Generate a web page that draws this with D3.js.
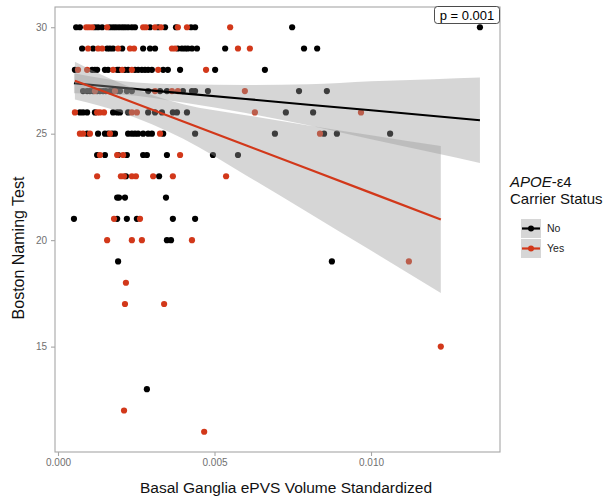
<!DOCTYPE html>
<html>
<head>
<meta charset="utf-8">
<script src="https://cdn.jsdelivr.net/npm/d3@7"></script>
<style>
  html, body { margin: 0; padding: 0; background: #fff; }
  svg text { font-family: "Liberation Sans", Arial, Helvetica, sans-serif; }
</style>
</head>
<body>
<svg id="chart" width="605" height="498"></svg>
<script>
// Boston Naming Test score rows, each with the basal ganglia ePVS volumes observed at that score
const nonCarrierRows = [
  [30, [0.00058, 0.00070, 0.00118, 0.00128, 0.00141, 0.00166, 0.00176, 0.00185, 0.00195, 0.00205, 0.00214, 0.00224, 0.00236, 0.00246, 0.00294, 0.00320, 0.00342, 0.00377, 0.00425, 0.00438, 0.00748, 0.01348]],
  [29, [0.00077, 0.00112, 0.00157, 0.00166, 0.00176, 0.00205, 0.00272, 0.00294, 0.00310, 0.00383, 0.00396, 0.00406, 0.00415, 0.00428, 0.00444, 0.00534, 0.00786, 0.00828]],
  [28, [0.00054, 0.00109, 0.00118, 0.00125, 0.00150, 0.00160, 0.00189, 0.00195, 0.00214, 0.00224, 0.00246, 0.00256, 0.00268, 0.00278, 0.00288, 0.00300, 0.00336, 0.00351, 0.00390, 0.00502, 0.00661]],
  [27, [0.00080, 0.00093, 0.00102, 0.00112, 0.00125, 0.00134, 0.00144, 0.00153, 0.00166, 0.00176, 0.00189, 0.00198, 0.00220, 0.00236, 0.00288, 0.00326, 0.00348, 0.00399, 0.00428, 0.00438, 0.00479, 0.00770, 0.00859]],
  [26, [0.00070, 0.00080, 0.00093, 0.00118, 0.00176, 0.00189, 0.00198, 0.00224, 0.00288, 0.00310, 0.00332, 0.00367, 0.00380, 0.00412, 0.00728, 0.00815]],
  [25, [0.00093, 0.00128, 0.00150, 0.00160, 0.00173, 0.00182, 0.00224, 0.00236, 0.00246, 0.00256, 0.00272, 0.00288, 0.00300, 0.00336, 0.00438, 0.00693, 0.00850, 0.00891, 0.01061]],
  [24, [0.00125, 0.00150, 0.00192, 0.00220, 0.00272, 0.00284, 0.00348, 0.00495, 0.00575]],
  [23, [0.00217, 0.00323]],
  [22, [0.00189, 0.00195, 0.00214, 0.00345]],
  [21, [0.00051, 0.00189, 0.00220, 0.00252, 0.00367, 0.00438]],
  [20, [0.00348, 0.00361]],
  [19, [0.00192, 0.00875]],
  [13, [0.00284]]
];

const carrierRows = [
  [30, [0.00090, 0.00099, 0.00109, 0.00157, 0.00272, 0.00281, 0.00310, 0.00329, 0.00383, 0.00412, 0.00550]],
  [29, [0.00096, 0.00128, 0.00141, 0.00192, 0.00230, 0.00243, 0.00364, 0.00374, 0.00575, 0.00613]],
  [28, [0.00064, 0.00093, 0.00176, 0.00205, 0.00236, 0.00320, 0.00473]],
  [27, [0.00118, 0.00182, 0.00310, 0.00364, 0.00383, 0.00597]],
  [26, [0.00054, 0.00125, 0.00134, 0.00147, 0.00236, 0.00252, 0.00629, 0.00968]],
  [25, [0.00070, 0.00080, 0.00102, 0.00166, 0.00326, 0.00837]],
  [24, [0.00134, 0.00189, 0.00208, 0.00390]],
  [23, [0.00125, 0.00201, 0.00211, 0.00236, 0.00249, 0.00304, 0.00367, 0.00537]],
  [21, [0.00179, 0.00262]],
  [20, [0.00157, 0.00236, 0.00268, 0.00428]],
  [19, [0.01121]],
  [18, [0.00217]],
  [17, [0.00214, 0.00339]],
  [15, [0.01223]],
  [12, [0.00211]],
  [11, [0.00467]]
];

// Linear fits with 95% confidence bands
const nonCarrierFitX = [0.00051, 0.002, 0.004, 0.006, 0.008, 0.010, 0.012, 0.01348];
const nonCarrierFit = [27.37, 27.16, 26.89, 26.63, 26.36, 26.10, 25.83, 25.63];
const nonCarrierLower = [26.90, 26.84, 26.46, 25.97, 25.40, 24.74, 24.10, 23.62];
const nonCarrierUpper = [27.84, 27.48, 27.32, 27.29, 27.32, 27.46, 27.56, 27.64];

const carrierFitX = [0.00054, 0.002, 0.004, 0.006, 0.008, 0.010, 0.01223];
const carrierFit = [27.49, 26.69, 25.57, 24.46, 23.34, 22.22, 20.97];
const carrierLower = [26.60, 26.01, 24.76, 23.05, 21.29, 19.51, 17.52];
const carrierUpper = [28.38, 27.37, 26.38, 25.87, 25.39, 24.93, 24.42];

const xTicks = [0, 0.005, 0.010];
const yTicks = [15, 20, 25, 30];
const groupLabels = ["No", "Yes"];
const groupColors = ["#000000", "#d2381a"];
const pLabel = "p = 0.001";

const svg = d3.select("#chart");
const panel = { left: 55, right: 500, top: 7, bottom: 452 };

const x = d3.scaleLinear().domain([-0.0000958, 0.014121]).range([panel.left, panel.right]);
const y = d3.scaleLinear().domain([10.05, 30.95]).range([panel.bottom, panel.top]);

const flatten = rows => rows.flatMap(([score, vols]) => vols.map(v => [v, score]));
const groups = [
  { points: flatten(nonCarrierRows), fx: nonCarrierFitX, fit: nonCarrierFit, lo: nonCarrierLower, hi: nonCarrierUpper, color: groupColors[0] },
  { points: flatten(carrierRows), fx: carrierFitX, fit: carrierFit, lo: carrierLower, hi: carrierUpper, color: groupColors[1] }
];

const plot = svg.append("g");

// points
groups.forEach(g => {
  plot.append("g").selectAll("circle").data(g.points).join("circle")
    .attr("cx", d => x(d[0])).attr("cy", d => y(d[1]))
    .attr("r", 3.1).attr("fill", g.color);
});

// confidence ribbons and fitted lines, group by group
const band = d3.area().curve(d3.curveMonotoneX)
  .x(d => x(d.x)).y0(d => y(d.lo)).y1(d => y(d.hi));
const fitLine = d3.line().x(d => x(d.x)).y(d => y(d.y));

groups.forEach(g => {
  const rows = g.fx.map((v, i) => ({ x: v, lo: g.lo[i], hi: g.hi[i], y: g.fit[i] }));
  plot.append("path").datum(rows).attr("d", band)
    .attr("fill", "#999999").attr("fill-opacity", 0.4);
  plot.append("path").datum(rows).attr("d", fitLine)
    .attr("fill", "none").attr("stroke", g.color).attr("stroke-width", 2.2);
});

// panel border
svg.append("rect")
  .attr("x", panel.left).attr("y", panel.top)
  .attr("width", panel.right - panel.left).attr("height", panel.bottom - panel.top)
  .attr("fill", "none").attr("stroke", "#a6a6a6").attr("stroke-width", 1.1);

// axes
const xAxis = svg.append("g").attr("transform", `translate(0,${panel.bottom})`)
  .call(d3.axisBottom(x).tickValues(xTicks).tickFormat(d3.format(".3f")).tickSize(4).tickPadding(3));
const yAxis = svg.append("g").attr("transform", `translate(${panel.left},0)`)
  .call(d3.axisLeft(y).tickValues(yTicks).tickFormat(d3.format("d")).tickSize(4).tickPadding(4));
[xAxis, yAxis].forEach(a => {
  a.select(".domain").remove();
  a.selectAll(".tick line").attr("stroke", "#a6a6a6").attr("stroke-width", 1.1);
  a.selectAll(".tick text").attr("fill", "#707070").style("font-size", "10px")
    .style("font-family", "'Liberation Sans', Arial, sans-serif");
});

// axis titles
svg.append("text").attr("x", 286).attr("y", 493).attr("text-anchor", "middle")
  .attr("font-size", 15.5).attr("fill", "#111").text("Basal Ganglia ePVS Volume Standardized");
svg.append("text").attr("transform", "translate(24,248) rotate(-90)").attr("text-anchor", "middle")
  .attr("font-size", 16).attr("fill", "#111").text("Boston Naming Test");

// p-value label in the top-right corner
const pBox = svg.append("g");
pBox.append("rect").attr("x", 434.5).attr("y", 6.5).attr("width", 65).attr("height", 17)
  .attr("rx", 3).attr("fill", "#fff").attr("stroke", "#222").attr("stroke-width", 0.8);
pBox.append("text").attr("x", 467).attr("y", 19.5).attr("text-anchor", "middle")
  .attr("font-size", 13).attr("fill", "#000").text(pLabel);

// legend
const legend = svg.append("g");
const title = legend.append("text").attr("x", 510).attr("y", 187).attr("font-size", 15).attr("fill", "#111");
title.append("tspan").attr("font-style", "italic").text("APOE");
title.append("tspan").text("-\u03b54");
legend.append("text").attr("x", 510).attr("y", 204).attr("font-size", 15).attr("fill", "#111").text("Carrier Status");

groupLabels.forEach((lab, i) => {
  const ky = 219 + i * 20;
  legend.append("rect").attr("x", 521).attr("y", ky).attr("width", 20).attr("height", 19)
    .attr("fill", "#999999").attr("fill-opacity", 0.4);
  legend.append("line").attr("x1", 522).attr("x2", 540).attr("y1", ky + 9.5).attr("y2", ky + 9.5)
    .attr("stroke", groupColors[i]).attr("stroke-width", 2.2);
  legend.append("circle").attr("cx", 531).attr("cy", ky + 9.5).attr("r", 3).attr("fill", groupColors[i]);
  legend.append("text").attr("x", 547).attr("y", ky + 13).attr("font-size", 10.5).attr("fill", "#222").text(lab);
});
</script>
</body>
</html>
